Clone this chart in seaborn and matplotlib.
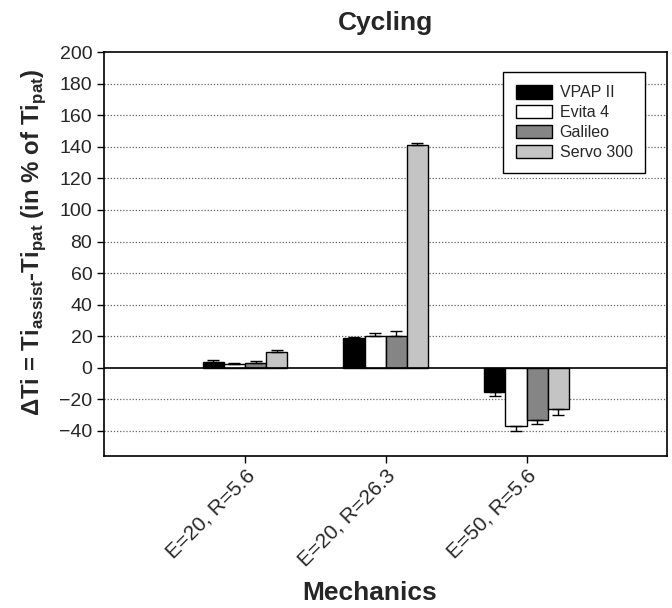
import pandas as pd
import matplotlib
matplotlib.use('Agg')
import matplotlib.pyplot as plt
import seaborn as sns
import numpy as np

# values
mechanics = ['E=20, R=5.6', 'E=20, R=26.3', 'E=50, R=5.6']
devices = ['VPAP II', 'Evita 4', 'Galileo', 'Servo 300']
vpap = [3.9, 19.0, -15.7]
evita = [2.2, 19.8, -36.7]
galileo = [3.0, 20.4, -33.0]
servo = [10.2, 141.5, -26.5]
vpap_err = [1.0, 0.5, 2.0]
evita_err = [1.0, 2.5, 3.5]
galileo_err = [1.0, 2.8, 2.8]
servo_err = [0.7, 1.0, 3.3]
colors = ['#000000', '#ffffff', '#858585', '#c4c4c4']

#long form table for seaborn
rows = []
for dev, vals, errs in zip(devices, [vpap, evita, galileo, servo],
                           [vpap_err, evita_err, galileo_err, servo_err]):
    for m, v, e in zip(mechanics, vals, errs):
        rows.append({'Mechanics': m, 'Device': dev, 'value': v, 'err': e})
df = pd.DataFrame(rows)

sns.set_style('white')
plt.rcParams['font.family'] = ['Liberation Sans', 'DejaVu Sans']
plt.rcParams['mathtext.fontset'] = 'custom'
plt.rcParams['mathtext.rm'] = 'Liberation Sans:bold'
plt.rcParams['mathtext.bf'] = 'Liberation Sans:bold'

fig = plt.figure(figsize=(6.72, 6.08), dpi=100)
ax = fig.add_axes([0.155, 0.25, 0.838, 0.664])

sns.barplot(data=df, x='Mechanics', y='value', hue='Device', hue_order=devices,
            order=mechanics, palette=colors, width=0.6, gap=0, errorbar=None,
            edgecolor='black', linewidth=1.0, ax=ax, zorder=3)

#one sided error bars from the bar ends
for cont, dev in zip(ax.containers, devices):
    sub = df[df['Device'] == dev].set_index('Mechanics').loc[mechanics]
    for patch, v, e in zip(cont.patches, sub['value'], sub['err']):
        xc = patch.get_x() + patch.get_width() / 2
        yerr = [[0], [e]] if v > 0 else [[e], [0]]
        ax.errorbar(xc, v, yerr=yerr, fmt='none', ecolor='black',
                    elinewidth=1.0, capsize=4, capthick=1.0, zorder=4)

ax.set_xlim(-1, 3)
ax.set_ylim(-56, 200)
ax.set_yticks(np.arange(-40, 201, 20))
for yv in np.arange(-40, 200, 20):
    if yv != 0:
        ax.axhline(yv, color='#666666', linestyle=(0, (1, 1.5)), linewidth=0.9, zorder=1)
ax.axhline(0, color='black', linewidth=1.2, zorder=5)

for s in ax.spines.values():
    s.set_color('black')
    s.set_linewidth(1.2)
ax.tick_params(axis='both', direction='out', length=5, width=1.0, color='black',
               labelsize=14, bottom=True, left=True)
ax.tick_params(axis='x', labelsize=15, pad=2)
plt.setp(ax.get_xticklabels(), rotation=45, ha='right', va='top', rotation_mode='anchor')

ax.set_title('Cycling', fontsize=19, fontweight='bold', pad=16)
ax.set_xlabel('Mechanics', fontsize=19, fontweight='bold', labelpad=8, x=0.472)
ax.set_ylabel(r'ΔTi = Ti$_{\mathbf{assist}}$-Ti$_{\mathbf{pat}}$ (in % of Ti$_{\mathbf{pat}}$)',
              fontsize=17.3, fontweight='bold', labelpad=8, y=0.53)

leg = ax.legend(loc='upper right', bbox_to_anchor=(0.961, 0.95), fontsize=11.5,
                frameon=True, fancybox=False, edgecolor='black', framealpha=1,
                borderaxespad=0, handlelength=2.3, handleheight=0.9,
                handletextpad=0.45, borderpad=0.8, labelspacing=0.3)
leg.get_frame().set_linewidth(1.0)

plt.savefig('out.png', dpi=100)
